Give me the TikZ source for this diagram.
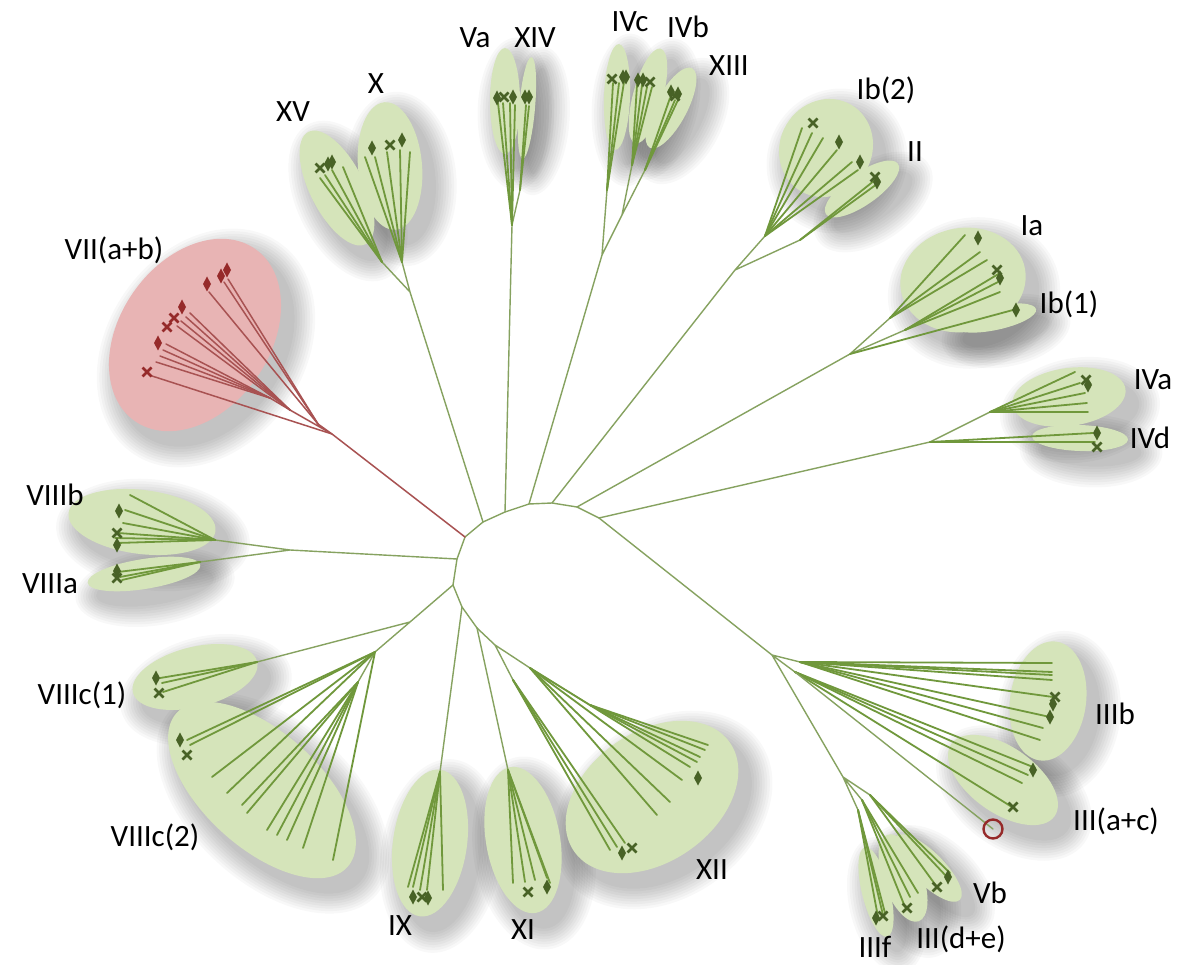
\documentclass[tikz,border=0pt]{standalone}
\usepackage{fontspec}
\setmainfont{Carlito}
\definecolor{cfill}{RGB}{213,228,186}
\definecolor{rfill}{RGB}{232,180,180}
\definecolor{stemc}{RGB}{134,162,96}
\definecolor{leafc}{RGB}{112,152,60}
\definecolor{markc}{RGB}{72,98,38}
\definecolor{redl}{RGB}{168,82,82}
\definecolor{redm}{RGB}{150,42,42}
\begin{document}
\begin{tikzpicture}[x=1pt,y=-1pt,
  stem/.style={draw=stemc, line width=1.4pt, line cap=round, line join=round},
  leaf/.style={draw=leafc, line width=1.8pt, line cap=round},
  rstem/.style={draw=redl, line width=1.5pt, line cap=round},
  lab/.style={font=\fontsize{31}{36}\selectfont, text=black, inner sep=0pt},
  dm/.pic={\fill (0,-7.5)--(4,0)--(0,7.5)--(-4,0)--cycle;},
  cr/.pic={\draw[line width=2.8pt] (-4.5,-4.5)--(4.5,4.5) (-4.5,4.5)--(4.5,-4.5);},
]
\useasboundingbox (0,0) rectangle (1189,965);
\fill[white] (0,0) rectangle (1189,965);

\def\clusters{195/335/105/75/55/rfill, 337/188/63/27/-63/cfill, 390/166/64/32/95/cfill,
 505/101/53/15/90/cfill, 527/108/51/8/85/cfill, 617/97/53/13/88/cfill, 648/96/49/15/75/cfill,
 671/108/45/16/62/cfill, 826/148/50/46/60/cfill, 862/189/44/16/35/cfill, 963/280/63/52/10/cfill,
 995/318/42/12/12/cfill, 1069/397/57/29/8/cfill, 1080/438/48/13/-2/cfill, 142/522/74/32/-7/cfill,
 144/574/57/15/9/cfill, 195/677/64/30/14/cfill, 262/790/115/58/-42/cfill, 430/843/74/37/82/cfill,
 523/840/74/37/100/cfill, 652/797/95/65/35/cfill, 1048/701/60/38/82/cfill, 1003/780/63/33/-35/cfill,
 876/892/46/14/104/cfill, 903/878/46/20/110/cfill, 928/868/45/16/135/cfill}

% shadows
\foreach \x/\y/\a/\b/\t/\c in \clusters {
  \foreach \k in {1,...,9} {
    \fill[black,opacity=0.028,rotate around={\t:(\x+11,\y+13)}] (\x+11,\y+13) ellipse [x radius={\a+2.6*\k}, y radius={\b+2.6*\k}];
  }
}
% ellipses
\foreach \x/\y/\a/\b/\t/\c in \clusters {
  \fill[\c,rotate around={\t:(\x,\y)}] (\x,\y) ellipse [x radius=\a, y radius=\b];
}

% backbone
\coordinate (b1) at (465,537); \coordinate (b2) at (483,522); \coordinate (b3) at (505,512);
\coordinate (b4) at (529,504); \coordinate (b5) at (552,503); \coordinate (b6) at (577,507);
\coordinate (b7) at (599,518); \coordinate (bl1) at (457,559); \coordinate (bl2) at (453,585);
\coordinate (bl3) at (462,607); \coordinate (bl4) at (477,628);
\draw[stem] (bl4) -- (bl3) -- (bl2) -- (bl1) -- (b1) -- (b2) -- (b3) -- (b4) -- (b5) -- (b6) -- (b7);

% red clade VII(a+b)
\coordinate (r0) at (332,434); \coordinate (ra) at (318,424); \coordinate (rb) at (290,410); \coordinate (rc) at (270,398);
\draw[rstem] (b1) -- (r0) -- (ra) (r0) -- (rb) -- (rc);
\foreach \p in {(228,279),(224,282),(209,292)} \draw[rstem] (ra) -- \p;
\foreach \p in {(190,313),(186,317),(181,321),(177,326)} \draw[rstem] (rb) -- \p;
\foreach \p in {(166,344),(163,350),(160,356),(156,362)} \draw[rstem] (rc) -- \p;
\draw[rstem] (r0) -- (152,376);

% XV / X
\coordinate (jx) at (410,292); \coordinate (jX) at (402,262); \coordinate (jXV) at (382,262);
\draw[stem] (b2) -- (jx) -- (jX) (jx) -- (jXV);
\foreach \p in {(365,157),(375,157),(387,152),(400,150),(410,152)} \draw[leaf] (jX) -- \p;
\foreach \p in {(320,178),(325,175),(332,170),(343,167)} \draw[leaf] (jXV) -- \p;

% Va / XIV
\coordinate (jv) at (512,225); \coordinate (jxiv) at (520,190);
\draw[stem] (b3) -- (jv) -- (jxiv);
\foreach \p in {(498,103),(503,103),(510,103),(515,105)} \draw[leaf] (jv) -- \p;
\foreach \p in {(526,105),(529,106)} \draw[leaf] (jxiv) -- \p;

% IVc / IVb / XIII
\coordinate (ji) at (602,255); \coordinate (jIVc) at (607,190); \coordinate (jIVbx) at (622,215);
\coordinate (jIVb) at (632,165); \coordinate (jXIII) at (645,170);
\draw[stem] (b4) -- (ji) -- (jIVc) (ji) -- (jIVbx) -- (jIVb) (jIVbx) -- (jXIII);
\foreach \p in {(613,83),(619,83),(624,82)} \draw[leaf] (jIVc) -- \p;
\foreach \p in {(637,85),(642,85),(647,87),(652,87)} \draw[leaf] (jIVb) -- \p;
\foreach \p in {(670,98),(675,100),(678,100)} \draw[leaf] (jXIII) -- \p;

% Ib(2) / II
\coordinate (jb) at (735,270); \coordinate (jIb) at (765,236); \coordinate (jII) at (800,240);
\draw[stem] (b5) -- (jb) -- (jIb) (jb) -- (jII);
\foreach \p in {(802,128),(812,133),(823,138),(837,150),(852,162),(858,170)} \draw[leaf] (jIb) -- \p;
\foreach \p in {(875,180),(877,184)} \draw[leaf] (jII) -- \p;

% Ia / Ib(1)
\coordinate (jA) at (850,354); \coordinate (jA1) at (890,318); \coordinate (jA2) at (905,330);
\draw[stem] (b6) -- (jA) -- (jA1) (jA) -- (jA2);
\foreach \p in {(965,235),(980,252),(987,260)} \draw[leaf] (jA1) -- \p;
\foreach \p in {(1000,273),(998,282),(1000,292)} \draw[leaf] (jA2) -- \p;
\draw[leaf] (jA) -- (1013,310);

% IVa / IVd
\coordinate (jD) at (930,442); \coordinate (jIVa) at (990,412);
\draw[stem] (b7) -- (jD) -- (jIVa);
\foreach \p in {(1075,372),(1080,383),(1085,393),(1087,403),(1088,412)} \draw[leaf] (jIVa) -- \p;
\foreach \p in {(1093,433),(1095,442)} \draw[leaf] (jD) -- \p;

% III group
\coordinate (j3) at (772,655); \coordinate (j3b) at (800,662); \coordinate (j3a) at (795,672); \coordinate (j3l) at (843,777);
\coordinate (jf) at (858,810); \coordinate (jde) at (862,800); \coordinate (jvb) at (870,795);
\draw[stem] (b7) -- (j3) -- (j3b) (j3) -- (j3a) (j3) -- (j3l) -- (jf) (j3l) -- (jde) (j3l) -- (jvb);
\foreach \p in {(1052,663),(1052,672),(1052,675),(1052,680),(1053,697),(1050,717),(1043,728),(1040,740)} \draw[leaf] (j3b) -- \p;
\foreach \p in {(1033,767),(1028,775),(1022,783),(1012,807)} \draw[leaf] (j3a) -- \p;
\coordinate (rcirc) at (993,829);
\draw[stem] (j3a) -- (rcirc);
\node[circle, draw=redm, line width=2.4pt, minimum size=19pt, inner sep=0pt] (rcircle) at (rcirc) {};
\foreach \p in {(878,917),(883,915),(885,913)} \draw[leaf] (jf) -- \p;
\foreach \p in {(905,907),(910,897),(918,893)} \draw[leaf] (jde) -- \p;
\foreach \p in {(937,887),(947,877),(950,873)} \draw[leaf] (jvb) -- \p;

% VIII a/b
\coordinate (j8) at (290,550); \coordinate (j8b) at (215,540); \coordinate (j8a) at (200,562);
\draw[stem] (bl1) -- (j8) -- (j8b) (j8) -- (j8a);
\foreach \p in {(130,495),(125,510),(123,523),(118,533),(115,538),(117,543)} \draw[leaf] (j8b) -- \p;
\foreach \p in {(118,572),(120,577),(122,580)} \draw[leaf] (j8a) -- \p;

% VIIIc
\coordinate (jc) at (410,622); \coordinate (jc1) at (257,662); \coordinate (jc2) at (375,652); \coordinate (jc3) at (358,682);
\draw[stem] (bl2) -- (jc) -- (jc1) (jc) -- (jc2) -- (jc3);
\foreach \p in {(160,678),(162,683),(163,692)} \draw[leaf] (jc1) -- \p;
\foreach \p in {(187,740),(190,745),(212,777),(227,793),(333,860)} \draw[leaf] (jc2) -- \p;
\foreach \p in {(242,805),(247,813),(267,830),(277,835),(287,840),(303,848)} \draw[leaf] (jc3) -- \p;

% IX
\coordinate (j9) at (440,772);
\draw[stem] (bl3) -- (j9);
\foreach \p in {(408,887),(413,887),(420,890),(427,890),(443,890)} \draw[leaf] (j9) -- \p;

% XI
\coordinate (j11) at (508,770);
\draw[stem] (bl4) -- (j11);
\foreach \p in {(513,883),(525,882),(535,880),(547,878),(550,883)} \draw[leaf] (j11) -- \p;

% XII
\coordinate (j12) at (495,645); \coordinate (j12a) at (513,680); \coordinate (j12b) at (530,668); \coordinate (j12c) at (590,705);
\draw[stem] (bl4) -- (j12) -- (j12a) (j12) -- (j12b) -- (j12c);
\foreach \p in {(610,850),(617,847),(625,843)} \draw[leaf] (j12a) -- \p;
\foreach \p in {(708,745),(705,750),(700,757),(697,762)} \draw[leaf] (j12c) -- \p;
\foreach \p in {(690,767),(682,780),(670,802),(657,815)} \draw[leaf] (j12b) -- \p;

% markers (red)
\foreach \p in {(221,276),(227,270),(207,284),(182,307),(158,343)} \pic[color=redm] at \p {dm};
\foreach \p in {(174,318),(167,327),(147,372)} \pic[color=redm] at \p {cr};
% markers (green)
\foreach \p in {(328,164),(332,162),(372,148),(402,140),(497,98),(513,97),(525,97),(529,97),
  (623,77),(626,77),(638,80),(643,80),(671,92),(678,94),(839,142),(860,162),(877,182),
  (978,238),(1000,278),(1016,310),(1088,385),(1097,433),(119,511),(117,545),(117,571),
  (156,678),(180,740),(413,897),(428,898),(547,887),(622,853),(698,778),(1053,704),(1050,717),
  (1033,770),(876,918),(948,877)} \pic[color=markc] at \p {dm};
\foreach \p in {(320,168),(390,145),(504,97),(612,79),(650,82),(675,96),(813,123),(875,177),
  (997,270),(1086,380),(1097,447),(117,533),(117,578),(159,693),(187,755),(422,897),(528,892),
  (632,848),(1055,697),(1013,807),(883,916),(907,908),(937,887)} \pic[color=markc] at \p {cr};

% labels
\node[lab] (lVII) at (114,250) {VII(a+b)};
\node[lab] (lXV) at (293,112) {XV};
\node[lab] (lX) at (376,84) {X};
\node[lab] (lVa) at (475,38) {Va};
\node[lab] (lXIV) at (535,38) {XIV};
\node[lab] (lIVc) at (630,22) {IVc};
\node[lab] (lIVb) at (688,27) {IVb};
\node[lab] (lXIII) at (729,66) {XIII};
\node[lab] (lIb2) at (886,90) {Ib(2)};
\node[lab] (lII) at (915,152) {II};
\node[lab] (lIa) at (1032,226) {Ia};
\node[lab] (lIb1) at (1069,304) {Ib(1)};
\node[lab] (lIVa) at (1153,380) {IVa};
\node[lab] (lIVd) at (1150,438) {IVd};
\node[lab] (lVIIIb) at (55,495) {VIIIb};
\node[lab] (lVIIIa) at (50,584) {VIIIa};
\node[lab] (lVIIIc1) at (82,695) {VIIIc(1)};
\node[lab] (lVIIIc2) at (155,837) {VIIIc(2)};
\node[lab] (lIX) at (400,926) {IX};
\node[lab] (lXI) at (523,930) {XI};
\node[lab] (lXII) at (712,870) {XII};
\node[lab] (lIIIb) at (1115,714) {IIIb};
\node[lab] (lIIIac) at (1116,821) {III(a+c)};
\node[lab] (lVb) at (990,893) {Vb};
\node[lab] (lIIIde) at (961,939) {III(d+e)};
\node[lab] (lIIIf) at (875,947) {IIIf};
\end{tikzpicture}
\end{document}
